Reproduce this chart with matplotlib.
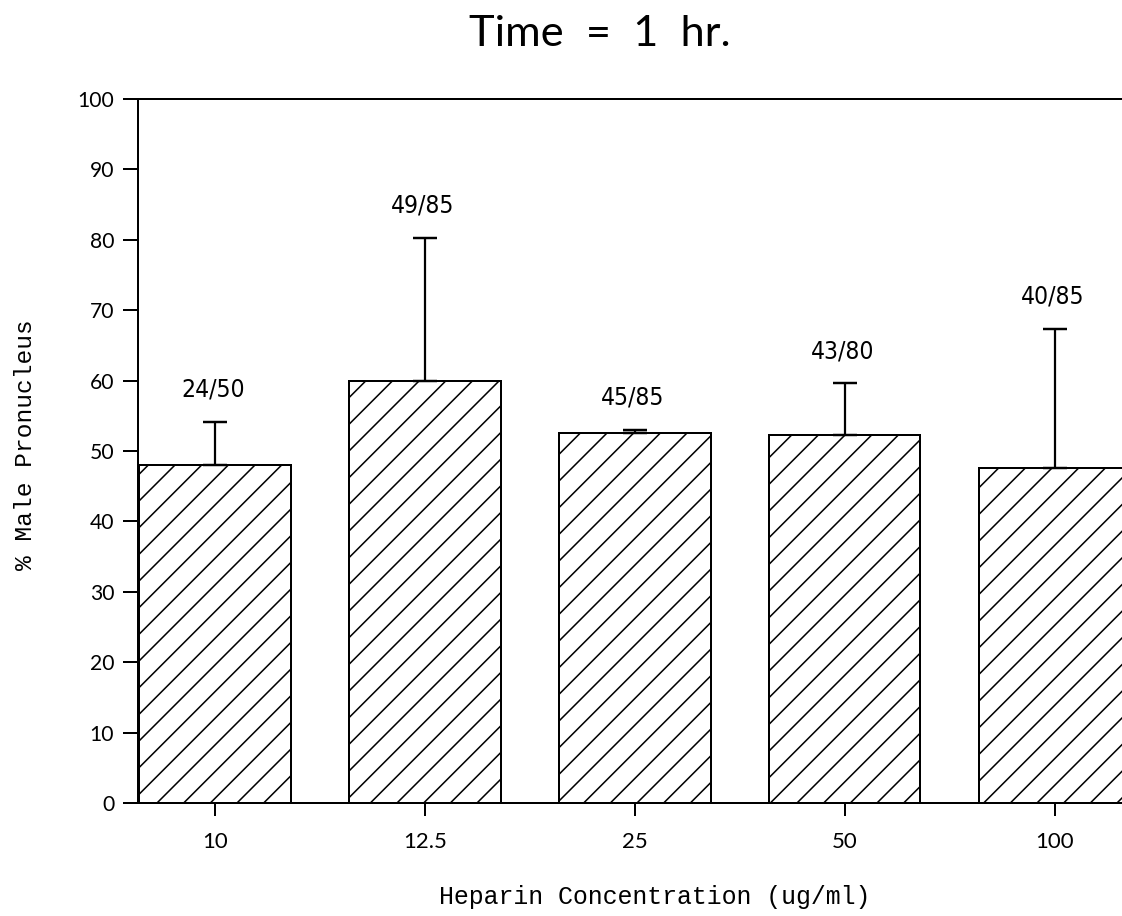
import matplotlib.pyplot as plt
import numpy as np

plt.rcParams['hatch.linewidth'] = 0.7

# data
concentrations = ['10', '12.5', '25', '50', '100']
pct_male = [48, 60, 52.5, 52.3, 47.6]
err_upper = [6.1, 20.3, 0.5, 7.3, 19.7]
counts = ['24/50', '49/85', '45/85', '43/80', '40/85']

W, H, DPI = 1122, 916, 160
fig = plt.figure(figsize=(W / DPI, H / DPI), dpi=DPI)
ax = fig.add_axes([138 / W, 113 / H, 1 - 138 / W, 704 / H])

x = np.arange(len(concentrations))
ax.bar(x, pct_male, width=0.72, color='white', edgecolor='black',
       linewidth=0.9, hatch='//')
ax.errorbar(x, pct_male, yerr=[np.zeros(len(x)), err_upper], fmt='none',
            ecolor='black', elinewidth=1.0, capsize=5.6, capthick=1.1)

for xi, v, e, lab in zip(x, pct_male, err_upper, counts):
    ax.annotate(lab, (xi, v + e), xytext=(-1, 14.5), textcoords='offset points',
                ha='center', va='center', fontsize=11, fontstretch='condensed',
                family='DejaVu Sans')

ax.set_xlim(-0.367, 4.32)
ax.set_ylim(0, 100)
ax.set_yticks(range(0, 101, 10))
ax.set_xticks(x)
ax.set_xticklabels(concentrations)
ax.spines['right'].set_visible(False)
for s in ['left', 'top', 'bottom']:
    ax.spines[s].set_linewidth(0.9)
ax.tick_params(axis='y', direction='out', length=6.7, width=0.9, pad=4, labelsize=9.5)
ax.tick_params(axis='x', direction='out', length=6, width=0.9, pad=7, labelsize=10)
for t in ax.get_xticklabels() + ax.get_yticklabels():
    t.set_family('Lato')

fig.text(600 / W, 1 - 34 / H, 'Time  =  1  hr.', ha='center', va='center',
         fontsize=19.5, family='Lato', color='black')
fig.text(655 / W, 1 - 897 / H, 'Heparin Concentration (ug/ml)', ha='center',
         va='center', fontsize=11.2, family='Liberation Mono')
fig.text(26 / W, 1 - 445 / H, '% Male Pronucleus', ha='center', va='center',
         rotation=90, fontsize=11, family='Liberation Mono')

fig.savefig('out.png', dpi=DPI)
